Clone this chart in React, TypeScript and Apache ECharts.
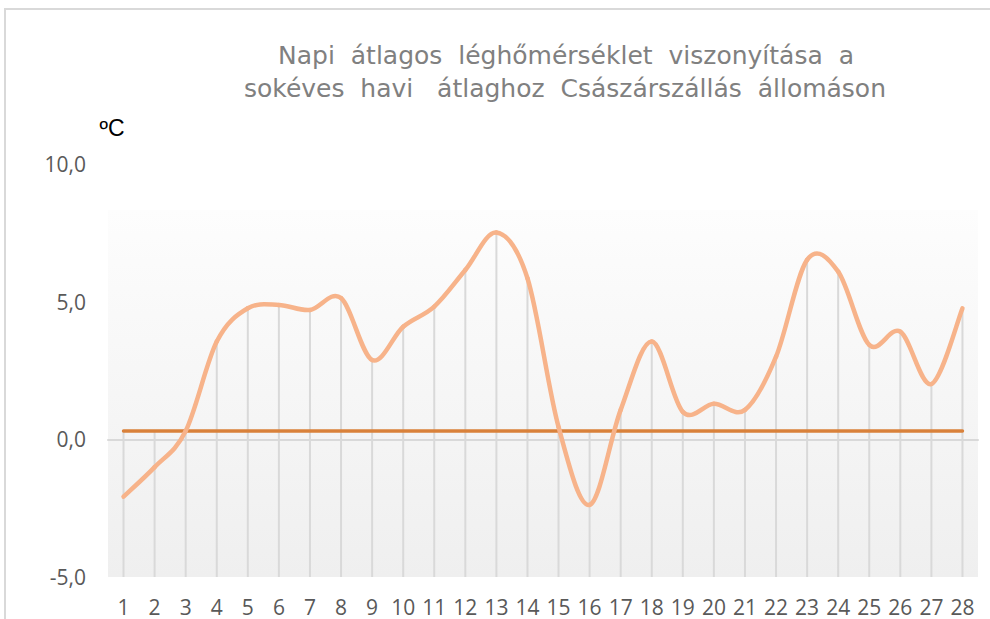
import React, { useEffect, useRef } from "react";
import * as echarts from "echarts";

const days = ["1","2","3","4","5","6","7","8","9","10","11","12","13","14","15","16","17","18","19","20","21","22","23","24","25","26","27","28"];
const dailyDeviation = [-2.08, -1.01, 0.3, 3.55, 4.76, 4.88, 4.7, 5.13, 2.88, 4.09, 4.82, 6.15, 7.51, 5.85, 0.45, -2.38, 1.07, 3.55, 1.0, 1.29, 1.07, 3.0, 6.52, 6.09, 3.43, 3.91, 2.01, 4.76];
const monthlyMean = [0.3,0.3,0.3,0.3,0.3,0.3,0.3,0.3,0.3,0.3,0.3,0.3,0.3,0.3,0.3,0.3,0.3,0.3,0.3,0.3,0.3,0.3,0.3,0.3,0.3,0.3,0.3,0.3];
const yMin = -5;
const yMax = 10;
const yInterval = 5;
const titleLine1 = "Napi  átlagos  léghőmérséklet  viszonyítása  a";
const titleLine2 = "sokéves  havi   átlaghoz  Császárszállás  állomáson";
const unitLabel = "ºC";

export default function App() {
  const ref = useRef<HTMLDivElement>(null);
  useEffect(() => {
    if (!ref.current) return;
    const chart = echarts.init(ref.current, null, { renderer: "svg" });
    const gridLeft = 108, gridRight = 12, gridTop = 164, gridBottom = 42;
    const dropData = days.map((_, i) => [i, Math.max(dailyDeviation[i], monthlyMean[i])]);
    const curveData = dailyDeviation.map((v, i) => [i, v]);
    chart.setOption({
      animation: false,
      backgroundColor: "#ffffff",
      grid: { left: gridLeft, right: gridRight, top: gridTop, bottom: gridBottom, containLabel: false },
      graphic: [
        { type: "rect", z: 0, shape: { x: 5, y: 9, width: 1000, height: 700 }, style: { fill: "none", stroke: "#d9d9d9", lineWidth: 2 } },
        {
          type: "rect", z: 0,
          shape: { x: gridLeft, y: 210, width: 990 - gridLeft - gridRight, height: 619 - gridBottom - 210 },
          style: { fill: new echarts.graphic.LinearGradient(0, 0, 0, 1, [{ offset: 0, color: "#fdfdfd" }, { offset: 1, color: "#efefef" }]) },
        },
        { type: "text", z: 5, style: { text: titleLine1, x: 566, y: 55, align: "center", verticalAlign: "middle", fill: "#808080", font: "25px 'DejaVu Sans'" } },
        { type: "text", z: 5, style: { text: titleLine2, x: 565, y: 88, align: "center", verticalAlign: "middle", fill: "#808080", font: "25px 'DejaVu Sans'" } },
        { type: "text", z: 5, style: { text: unitLabel, x: 112, y: 128, align: "center", verticalAlign: "middle", fill: "#000000", font: "23px 'Liberation Sans'" } },
      ],
      xAxis: {
        type: "category",
        data: days,
        boundaryGap: true,
        axisLine: { show: true, lineStyle: { color: "#d9d9d9", width: 2 } },
        axisTick: { show: false },
        axisLabel: { color: "#595959", fontSize: 21, fontFamily: "Open Sans", margin: 19, interval: 0 },
        splitLine: { show: false },
      },
      yAxis: {
        type: "value",
        min: yMin,
        max: yMax,
        interval: yInterval,
        axisLine: { show: false },
        axisTick: { show: false },
        splitLine: { show: false },
        axisLabel: {
          color: "#595959", fontSize: 21, fontFamily: "Open Sans", margin: 22,
          formatter: (v: number) => v.toFixed(1).replace(".", ","),
        },
      },
      series: [
        {
          type: "custom",
          z: 1,
          silent: true,
          data: dropData,
          renderItem: (params: any, api: any) => {
            const top = api.coord([api.value(0), api.value(1)]);
            const bot = api.coord([api.value(0), yMin]);
            return { type: "line", shape: { x1: top[0], y1: top[1], x2: bot[0], y2: bot[1] }, style: { stroke: "#d9d9d9", lineWidth: 2 } };
          },
        },
        {
          type: "line",
          z: 3,
          data: monthlyMean,
          showSymbol: false,
          symbol: "none",
          lineStyle: { color: "#d9813a", width: 3.5, cap: "round" },
        },
        {
          type: "custom",
          z: 4,
          silent: true,
          data: curveData,
          renderItem: (params: any, api: any) => {
            const i = params.dataIndex;
            const n = dailyDeviation.length;
            if (i >= n - 1) return null;
            const pt = (k: number) => {
              const kk = Math.max(0, Math.min(n - 1, k));
              return api.coord([kk, dailyDeviation[kk]]);
            };
            const p0 = pt(i - 1), p1 = pt(i), p2 = pt(i + 1), p3 = pt(i + 2);
            const t = 1 / 6;
            const c1x = p1[0] + (p2[0] - p0[0]) * t;
            const c1y = p1[1] + (p2[1] - p0[1]) * t;
            const c2x = p2[0] - (p3[0] - p1[0]) * t;
            const c2y = p2[1] - (p3[1] - p1[1]) * t;
            return {
              type: "path",
              shape: { pathData: `M${p1[0]},${p1[1]} C${c1x},${c1y} ${c2x},${c2y} ${p2[0]},${p2[1]}` },
              style: { fill: "none", stroke: "#f7b38a", lineWidth: 4.5, lineCap: "round", lineJoin: "round" },
            };
          },
        },
      ],
    });
    return () => chart.dispose();
  }, []);
  return <div ref={ref} style={{ position: "absolute", left: 0, top: 0, width: 990, height: 619 }} />;
}
